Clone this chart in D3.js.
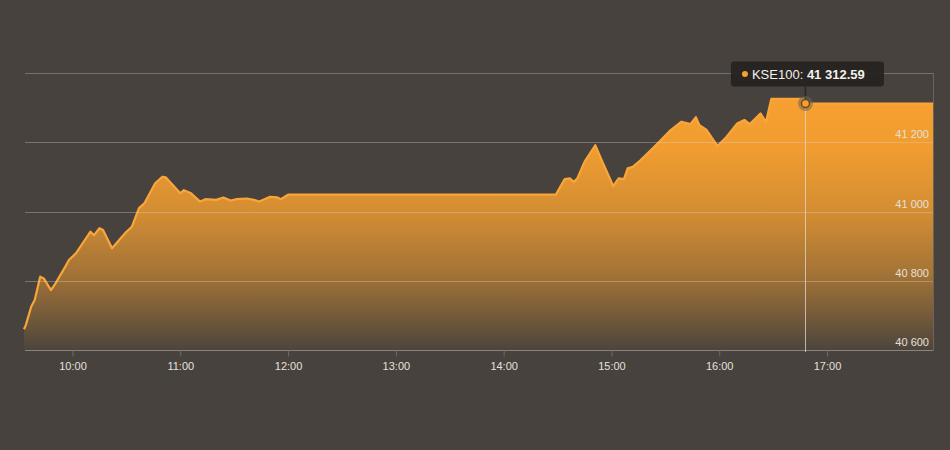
<!DOCTYPE html>
<html><head><meta charset="utf-8">
<script src="https://cdn.jsdelivr.net/npm/d3@7"></script>
<style>
html,body{margin:0;padding:0;background:#47423d;}
svg{display:block;font-family:"Liberation Sans",Arial,Helvetica,sans-serif;}
</style></head><body>
<svg id="chart" width="950" height="450"></svg>
<script>
// ---- data ----
const times = ["09:33","09:34","09:37","09:39","09:42","09:44","09:48","09:50","09:56","09:58","10:02","10:10","10:12","10:15","10:17","10:22","10:30","10:33","10:37","10:40","10:42","10:46","10:50","10:52","11:00","11:02","11:06","11:11","11:14","11:20","11:24","11:28","11:31","11:37","11:41","11:44","11:50","11:54","11:56","12:00","14:29","14:34","14:37","14:39","14:41","14:43","14:45","14:51","14:55","15:01","15:04","15:07","15:09","15:12","15:16","15:23","15:27","15:33","15:39","15:44","15:47","15:49","15:53","15:59","16:04","16:10","16:14","16:17","16:23","16:26","16:29","16:47","16:48","17:59"];
const values = [40660,40672,40725,40745,40812,40807,40773,40788,40841,40860,40880,40942,40932,40952,40947,40894,40942,40956,41010,41024,41043,41082,41101,41099,41053,41062,41053,41029,41036,41034,41041,41032,41036,41038,41034,41029,41043,41041,41036,41049,41049,41094,41096,41086,41096,41120,41144,41192,41144,41074,41096,41094,41125,41130,41148,41183,41204,41236,41260,41253,41273,41250,41236,41190,41216,41255,41265,41253,41284,41259,41326,41326,41312.59,41312.59];
const xTickLabels = ["10:00","11:00","12:00","13:00","14:00","15:00","16:00","17:00"];
const yTickValues = [40600,40800,41000,41200];
const yGridValues = [40800,41000,41200];
const yTop = 41400;
const seriesName = "KSE100";
const hoverTime = "16:48";
const hoverValue = 41312.59;
const timeStart = "09:33", timeEnd = "17:59";

// ---- setup ----
const parse = d3.timeParse("%H:%M");
const data = times.map((t,i)=>({t:parse(t), v:values[i]}));
const svg = d3.select("#chart");
const x = d3.scaleTime().domain([parse(timeStart), parse(timeEnd)]).range([24, 933]);
const y = d3.scaleLinear().domain([40600, yTop]).range([350, 73.3]);
const loc = d3.formatLocale({decimal:".", thousands:" ", grouping:[3], currency:["",""]});
const fmtInt = loc.format(",d");
const fmtVal = loc.format(",.2f");

const defs = svg.append("defs");
const grad = defs.append("linearGradient").attr("id","fillGrad")
  .attr("gradientUnits","userSpaceOnUse").attr("x1",0).attr("x2",0)
  .attr("y1", y(d3.max(values))).attr("y2", y(40600));
[[0,1],[0.2,0.96],[0.45,0.8],[0.7,0.52],[0.85,0.28],[1,0.03]].forEach(([o,a])=>{
  grad.append("stop").attr("offset",o).attr("stop-color","#f7a030").attr("stop-opacity",a);
});

// area + line
const area = d3.area().x(d=>x(d.t)).y0(y(40600)).y1(d=>y(d.v));
const line = d3.line().x(d=>x(d.t)).y(d=>y(d.v));
svg.append("path").datum(data).attr("d",area).attr("fill","url(#fillGrad)");
svg.append("path").datum(data).attr("d",line).attr("fill","none")
  .attr("stroke","#f9a53a").attr("stroke-width",2.2).attr("stroke-linejoin","round");

// gridlines over fill
const [x0,x1] = x.range();
svg.append("g").selectAll("line").data(yGridValues).join("line")
  .attr("x1",x0+1).attr("x2",x1).attr("y1",d=>Math.round(y(d))+0.5).attr("y2",d=>Math.round(y(d))+0.5)
  .attr("stroke","rgba(220,210,200,0.35)").attr("stroke-width",1);
// top border and right border
svg.append("line").attr("x1",x0+1).attr("x2",x1+0.5).attr("y1",Math.round(y(yTop))+0.5).attr("y2",Math.round(y(yTop))+0.5)
  .attr("stroke","#777069").attr("stroke-width",1);
svg.append("line").attr("x1",x1+0.5).attr("x2",x1+0.5).attr("y1",Math.round(y(yTop))+0.5).attr("y2",y(40600))
  .attr("stroke","#6a645e").attr("stroke-width",1);

// y labels
svg.append("g").selectAll("text").data(yTickValues).join("text")
  .attr("x",x1-4).attr("y",d=>y(d)-4).attr("text-anchor","end")
  .attr("font-size",11).attr("fill","#e6e0da").text(d=>fmtInt(d));

// x axis
const xAxis = d3.axisBottom(x)
  .tickValues(xTickLabels.map(parse))
  .tickFormat(d3.timeFormat("%H:%M")).tickSizeOuter(0).tickSizeInner(6).tickPadding(6);
const gx = svg.append("g").attr("transform",`translate(0,${Math.round(y(40600))+0.5})`).call(xAxis);
gx.select(".domain").attr("stroke","#8a847e").attr("d",`M${x0+1},0H${x1+0.5}`);
gx.selectAll(".tick line").attr("stroke","#6f6964");
gx.selectAll(".tick text").attr("fill","#e6e0da").attr("font-size",11)
  .attr("font-family",'"Liberation Sans",Arial,sans-serif');

// crosshair + marker
const hx = x(parse(hoverTime)), hy = y(hoverValue);
svg.append("line").attr("x1",Math.round(hx)+0.5).attr("x2",Math.round(hx)+0.5).attr("y1",hy).attr("y2",y(40600)+2)
  .attr("stroke","rgba(225,218,210,0.75)").attr("stroke-width",1);
// tooltip
const tw = 153, th = 25;
const tx = hx - tw/2 + 2, ty = hy - 42;
svg.append("line").attr("x1",hx).attr("x2",hx).attr("y1",ty+th).attr("y2",hy-3)
  .attr("stroke","#2a2623").attr("stroke-width",1.5);
svg.append("circle").attr("cx",hx).attr("cy",hy).attr("r",7.5).attr("fill","rgba(110,100,92,0.55)");
svg.append("circle").attr("cx",hx).attr("cy",hy).attr("r",4).attr("fill","#f7a030")
  .attr("stroke","#6e4516").attr("stroke-width",1.4);
svg.append("rect").attr("x",tx).attr("y",ty).attr("width",tw).attr("height",th).attr("rx",3)
  .attr("fill","rgba(38,34,31,0.92)");
svg.append("circle").attr("cx",tx+14).attr("cy",ty+th/2).attr("r",3).attr("fill","#f7a030");
const tt = svg.append("text").attr("x",tx+21).attr("y",ty+th/2+4.5).attr("font-size",13).attr("fill","#f4f0ec");
tt.append("tspan").text(seriesName + ": ");
tt.append("tspan").attr("font-weight","bold").text(fmtVal(hoverValue));
</script>
</body></html>
